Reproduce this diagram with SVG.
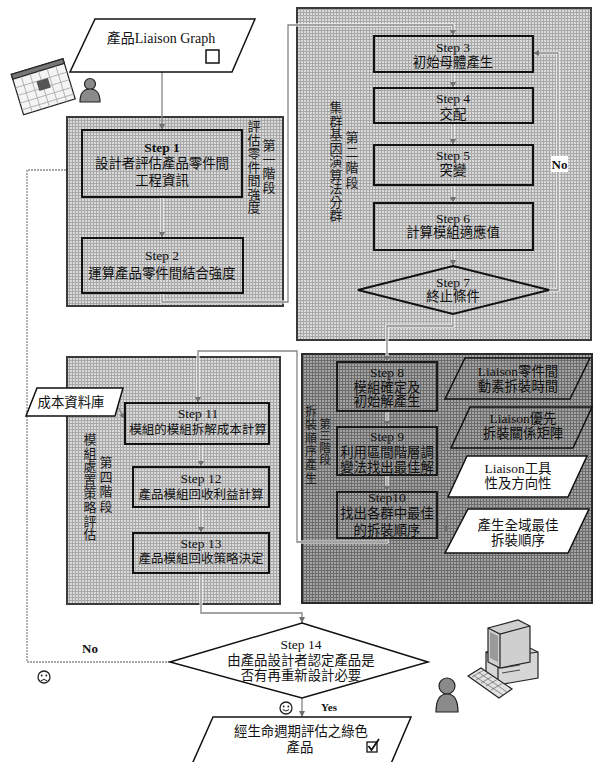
<svg xmlns="http://www.w3.org/2000/svg" width="594" height="762" viewBox="0 0 594 762">
  <defs>
    <pattern id="texL" width="3" height="3" patternUnits="userSpaceOnUse">
      <rect width="3" height="3" fill="#dadada"/>
      <rect width="3" height="1" fill="#a8a8a8"/>
      <rect width="1" height="3" fill="#a8a8a8"/>
    </pattern>
    <pattern id="texD" width="3" height="3" patternUnits="userSpaceOnUse">
      <rect width="3" height="3" fill="#a4a4a4"/>
      <rect width="3" height="1" fill="#6c6c6c"/>
      <rect width="1" height="3" fill="#6c6c6c"/>
    </pattern>
    <marker id="ar" viewBox="0 0 8 8" refX="8" refY="4" markerWidth="6" markerHeight="6" markerUnits="userSpaceOnUse" orient="auto">
      <path d="M0,0 L8,4 L0,8 z" fill="#707070"/>
    </marker>
    <style>
      .stageL { fill: url(#texL); stroke: #3a3a3a; stroke-width: 2; }
      .stageD { fill: url(#texD); stroke: #2a2a2a; stroke-width: 2; }
      .stepL { fill: url(#texL); stroke: #111; stroke-width: 2; }
      .stepD { fill: url(#texD); stroke: #1a1a1a; stroke-width: 2; }
      .io { fill: #fff; stroke: #111; stroke-width: 1.5; }
      .ioD { fill: url(#texD); stroke: #111; stroke-width: 1.5; }
      .halo { fill: none; stroke: #fff; stroke-width: 3; }
      .ln { fill: none; stroke: #858585; stroke-width: 1.3; }
      .dash { fill: none; stroke: #8a8a8a; stroke-width: 1.3; stroke-dasharray: 2 1; }
      text { font-family: "Liberation Serif", "Noto Sans CJK TC", serif; fill: #111; text-anchor: middle; }
      .t { font-size: 13.4px; }
      .s { font-size: 12.5px; }
      .st { font-size: 13.5px; }
      .v { font-size: 13px; fill: #1a1a1a; }
      .b { font-weight: bold; }
      .icon { stroke: #222; stroke-width: 1.2; }
    </style>
  </defs>

  <rect width="594" height="762" fill="#fff"/>

  <!-- stage containers -->
  <g id="stage1">
    <rect class="stageL" x="67" y="117" width="216" height="189"/>
    <text class="v"><tspan x="254" y="131">評</tspan><tspan x="254" dy="13.5">估</tspan><tspan x="254" dy="13.5">零</tspan><tspan x="254" dy="13.5">件</tspan><tspan x="254" dy="13.5">間</tspan><tspan x="254" dy="13.5">強</tspan><tspan x="254" dy="13.5">度</tspan></text>
    <text class="v"><tspan x="269" y="150">第</tspan><tspan x="269" dy="14">一</tspan><tspan x="269" dy="14">階</tspan><tspan x="269" dy="14">段</tspan></text>
  </g>
  <g id="stage2">
    <rect class="stageL" x="297" y="8" width="294" height="332"/>
    <text class="v"><tspan x="336" y="112">集</tspan><tspan x="336" dy="13.5">群</tspan><tspan x="336" dy="13.5">基</tspan><tspan x="336" dy="13.5">因</tspan><tspan x="336" dy="13.5">演</tspan><tspan x="336" dy="13.5">算</tspan><tspan x="336" dy="13.5">法</tspan><tspan x="336" dy="13.5">分</tspan><tspan x="336" dy="13.5">群</tspan></text>
    <text class="v"><tspan x="352" y="142">第</tspan><tspan x="352" dy="15">二</tspan><tspan x="352" dy="15">階</tspan><tspan x="352" dy="15">段</tspan></text>
  </g>
  <g id="stage3">
    <rect class="stageD" x="302" y="354" width="290" height="249"/>
    <text class="v" style="font-size:12px"><tspan x="311" y="416">拆</tspan><tspan x="311" dy="13.3">裝</tspan><tspan x="311" dy="13.3">順</tspan><tspan x="311" dy="13.3">序</tspan><tspan x="311" dy="13.3">產</tspan><tspan x="311" dy="13.3">生</tspan></text>
    <text class="v" style="font-size:11.5px"><tspan x="325" y="428">第</tspan><tspan x="325" dy="12">三</tspan><tspan x="325" dy="12">階</tspan><tspan x="325" dy="12">段</tspan></text>
  </g>
  <g id="stage4">
    <rect class="stageL" x="67" y="357" width="213" height="247"/>
    <text class="v"><tspan x="90" y="444">模</tspan><tspan x="90" dy="13.6">組</tspan><tspan x="90" dy="13.6">處</tspan><tspan x="90" dy="13.6">置</tspan><tspan x="90" dy="13.6">策</tspan><tspan x="90" dy="13.6">略</tspan><tspan x="90" dy="13.6">評</tspan><tspan x="90" dy="13.6">估</tspan></text>
    <text class="v"><tspan x="106" y="467">第</tspan><tspan x="106" dy="14.5">四</tspan><tspan x="106" dy="14.5">階</tspan><tspan x="106" dy="14.5">段</tspan></text>
  </g>

  <!-- connectors -->
  <g id="connectors">
    <path class="halo" d="M162,197 V238 M162,293 V302 H288 V25 H453 V36 M453,72 V88 M453,123 V145 M453,185 V203 M453,250 V266 M549,290 H558 V53 H533 M453,314 V326 H387 V362 M387,411 V427 M387,475 V492 M387,538 V542 H297 V351 H198 V403 M201,444 V467 M201,507 V533 M201,573 V613 H302 V623"/>
    <path class="ln" d="M162,72 V130" marker-end="url(#ar)"/>
    <path class="ln" d="M162,197 V238" marker-end="url(#ar)"/>
    <path class="ln" d="M162,293 V302 H288 V25 H453 V36" marker-end="url(#ar)"/>
    <path class="ln" d="M453,72 V88" marker-end="url(#ar)"/>
    <path class="ln" d="M453,123 V145" marker-end="url(#ar)"/>
    <path class="ln" d="M453,185 V203" marker-end="url(#ar)"/>
    <path class="ln" d="M453,250 V266" marker-end="url(#ar)"/>
    <path class="ln" d="M549,290 H558 V53 H533" marker-end="url(#ar)"/>
    <path class="ln" d="M453,314 V326 H387 V362" marker-end="url(#ar)"/>
    <path class="ln" d="M387,411 V427" marker-end="url(#ar)"/>
    <path class="ln" d="M387,475 V492" marker-end="url(#ar)"/>
    <path class="ln" d="M387,538 V542 H297 V351 H198 V403" marker-end="url(#ar)"/>
    <path class="ln" d="M201,444 V467" marker-end="url(#ar)"/>
    <path class="ln" d="M201,507 V533" marker-end="url(#ar)"/>
    <path class="ln" d="M201,573 V613 H302 V623" marker-end="url(#ar)"/>
    <path class="dash" d="M170,662 H27 V170 H67"/>
    <path class="ln" d="M302,698 V717" marker-end="url(#ar)"/>
    <path class="ln" d="M116,404 L125,419" marker-end="url(#ar)"/>
    <path class="dash" d="M437,390 L452,384"/>
    <path class="dash" d="M437,450 L459,432 M437,450 L461,466"/>
    <path class="dash" d="M437,517 H446 V532" marker-end="url(#ar)"/>
    <rect x="551" y="156" width="17" height="16" fill="#fff"/>
    <text class="b" x="559.5" y="169" style="font-size:13px">No</text>
    <text class="b" x="90" y="653" style="font-size:13px">No</text>
    <text class="b" x="329" y="711" style="font-size:11px">Yes</text>
  </g>

  <!-- input: product liaison graph -->
  <g id="liaison-graph">
    <polygon class="io" points="95,19 255,19 232,72 70,72"/>
    <text x="161" y="43" style="font-size:14px">產品Liaison Graph</text>
    <rect x="206" y="50" width="13" height="13" fill="#fff" stroke="#111" stroke-width="1.5"/>
  </g>

  <g id="calendar-icon">
    <g transform="rotate(-17 42 86)">
      <rect x="16" y="66" width="54" height="42" fill="#f4f4f4" class="icon"/>
      <rect x="16" y="66" width="54" height="5" fill="#777" class="icon"/>
      <path d="M16,80 H70 M16,88 H70 M16,96 H70 M16,103 H70 M25,71 V108 M34,71 V108 M43,71 V108 M52,71 V108 M61,71 V108" stroke="#aaa" stroke-width="0.8" fill="none"/>
      <rect x="38" y="80" width="12" height="10" fill="#555"/>
    </g>
  </g>
  <g id="user-icon-top">
    <circle cx="90" cy="84" r="5.5" fill="#8a8a8a" class="icon"/>
    <path d="M80,102 C80,93 84,89 90,89 C96,89 100,93 100,102 Z" fill="#8a8a8a" class="icon"/>
  </g>

  <!-- stage 1 steps -->
  <g id="step1">
    <rect class="stepL" x="82" y="130" width="160" height="67"/>
    <text class="st b" x="162" y="151.5">Step 1</text>
    <text class="t" x="162" y="168">設計者評估產品零件間</text>
    <text class="t" x="162" y="185">工程資訊</text>
  </g>
  <g id="step2">
    <rect class="stepL" x="82" y="238" width="161" height="55"/>
    <text class="st" x="162" y="259.5">Step 2</text>
    <text class="t" x="162" y="278">運算產品零件間結合強度</text>
  </g>

  <!-- stage 2 steps -->
  <g id="step3">
    <rect class="stepL" x="374" y="36" width="159" height="36"/>
    <text class="st" x="453" y="51.5">Step 3</text>
    <text class="t" x="453" y="67">初始母體產生</text>
  </g>
  <g id="step4">
    <rect class="stepL" x="374" y="88" width="159" height="35"/>
    <text class="st" x="453" y="102.5">Step 4</text>
    <text class="t" x="453" y="119">交配</text>
  </g>
  <g id="step5">
    <rect class="stepL" x="374" y="145" width="159" height="40"/>
    <text class="st" x="453" y="159.5">Step 5</text>
    <text class="t" x="453" y="175">突變</text>
  </g>
  <g id="step6">
    <rect class="stepL" x="374" y="203" width="159" height="47"/>
    <text class="st" x="453" y="222.5">Step 6</text>
    <text class="t" x="453" y="237">計算模組適應值</text>
  </g>
  <g id="step7">
    <polygon class="stepL" points="453,266 549,290 453,314 358,290"/>
    <text class="st" x="453" y="286.5">Step 7</text>
    <text class="t" x="453" y="301">終止條件</text>
  </g>

  <!-- stage 3 steps -->
  <g id="step8">
    <rect class="stepD" x="337" y="362" width="100" height="49"/>
    <text class="st" x="387" y="376.5">Step 8</text>
    <text class="t" x="387" y="392">模組確定及</text>
    <text class="t" x="387" y="406">初始解產生</text>
  </g>
  <g id="step9">
    <rect class="stepD" x="337" y="427" width="100" height="48"/>
    <text class="st" x="387" y="440.5">Step 9</text>
    <text class="t" x="387" y="457">利用區間階層調</text>
    <text class="t" x="387" y="472">變法找出最佳解</text>
  </g>
  <g id="step10">
    <rect class="stepD" x="337" y="492" width="100" height="46"/>
    <text class="st" x="387" y="501.5">Step10</text>
    <text class="t" x="387" y="518">找出各群中最佳</text>
    <text class="t" x="387" y="535">的拆裝順序</text>
  </g>
  <g id="data-disassembly-time">
    <polygon class="ioD" points="465,358 590,358 570,399 445,399"/>
    <text class="t" x="518" y="376">Liaison零件間</text>
    <text class="t" x="518" y="391">動素拆裝時間</text>
  </g>
  <g id="data-precedence-matrix">
    <polygon class="ioD" points="470,407 592,407 573,448 451,448"/>
    <text class="t" x="523" y="423">Liaison優先</text>
    <text class="t" x="523" y="438">拆裝關係矩陣</text>
  </g>
  <g id="data-tool-direction">
    <polygon class="io" points="467,456 587,456 568,497 448,497"/>
    <text class="t" x="518" y="473">Liaison工具</text>
    <text class="t" x="518" y="488">性及方向性</text>
  </g>
  <g id="result-global-sequence">
    <polygon class="io" points="468,509 589,509 568,553 445,553"/>
    <text class="st" x="518" y="530">產生全域最佳</text>
    <text class="st" x="518" y="545">拆裝順序</text>
  </g>

  <!-- stage 4 steps -->
  <g id="cost-database">
    <polygon class="io" points="37,388 123,388 115,416 26,416"/>
    <text class="t" x="71" y="407">成本資料庫</text>
  </g>
  <g id="step11">
    <rect class="stepL" x="125" y="403" width="144" height="41"/>
    <text class="st" x="198" y="417.5">Step 11</text>
    <text class="s" x="198" y="434">模組的模組拆解成本計算</text>
  </g>
  <g id="step12">
    <rect class="stepL" x="133" y="467" width="136" height="40"/>
    <text class="st" x="201" y="482.5">Step 12</text>
    <text class="s" x="201" y="499">產品模組回收利益計算</text>
  </g>
  <g id="step13">
    <rect class="stepL" x="133" y="533" width="136" height="40"/>
    <text class="st" x="201" y="547.5">Step 13</text>
    <text class="s" x="201" y="563">產品模組回收策略決定</text>
  </g>

  <!-- final decision -->
  <g id="step14">
    <polygon class="io" points="302,623 428,662 302,698 170,662"/>
    <text class="st" x="301" y="649">Step 14</text>
    <text class="t" x="301" y="665">由產品設計者認定產品是</text>
    <text class="t" x="301" y="680">否有再重新設計必要</text>
  </g>
  <g id="sad-face">
    <circle cx="44" cy="677" r="6" fill="#fff" stroke="#222" stroke-width="1.3"/>
    <circle cx="41.7" cy="675.5" r="0.9" fill="#222"/>
    <circle cx="46.3" cy="675.5" r="0.9" fill="#222"/>
    <path d="M40.8,680.8 Q44,678 47.2,680.8" fill="none" stroke="#222" stroke-width="1"/>
  </g>
  <g id="happy-face">
    <circle cx="286" cy="708" r="6" fill="#fff" stroke="#222" stroke-width="1.3"/>
    <circle cx="283.7" cy="706.5" r="0.9" fill="#222"/>
    <circle cx="288.3" cy="706.5" r="0.9" fill="#222"/>
    <path d="M282.8,709.5 Q286,712.5 289.2,709.5" fill="none" stroke="#222" stroke-width="1"/>
  </g>
  <g id="green-product">
    <polygon class="io" points="213,717 411,717 384,780 185,780"/>
    <text class="t" x="301" y="736">經生命週期評估之綠色</text>
    <text class="t" x="300" y="752">產品</text>
    <rect x="367" y="742" width="10" height="10" fill="#fff" stroke="#111" stroke-width="1.3"/>
    <path d="M368.5,746 L371.5,750 L379,739" fill="none" stroke="#111" stroke-width="1.8"/>
  </g>

  <g id="designer-icon">
    <circle cx="447" cy="686" r="8" fill="#8a8a8a" class="icon"/>
    <path d="M436,712 C436,699 440,694 447,694 C454,694 458,699 458,712 Z" fill="#8a8a8a" class="icon"/>
  </g>
  <g id="computer-icon">
    <polygon points="486,652 526,646 538,652 538,678 498,685 486,679" fill="#d6d6d6" class="icon"/>
    <path d="M486,652 L498,658 L538,652 M498,658 V685" fill="none" class="icon"/>
    <path d="M502,668 L520,665 M502,673 L520,670" stroke="#444" stroke-width="1"/>
    <polygon points="488,628 518,620 530,626 530,662 500,668 488,662" fill="#cfcfcf" class="icon"/>
    <path d="M488,628 L500,634 L530,626 M500,634 V668" fill="none" class="icon"/>
    <polygon points="490,632 498,636 498,662 490,658" fill="#9a9a9a"/>
    <polygon points="468,676 481,668 512,689 499,698" fill="#e2e2e2" class="icon"/>
    <path d="M472,677 L484,670 M476,680 L488,673 M481,683 L493,676 M486,686 L498,679 M491,690 L503,683 M473,675 L503,695 M478,672 L507,692" stroke="#666" stroke-width="0.7" fill="none"/>
  </g>
</svg>
